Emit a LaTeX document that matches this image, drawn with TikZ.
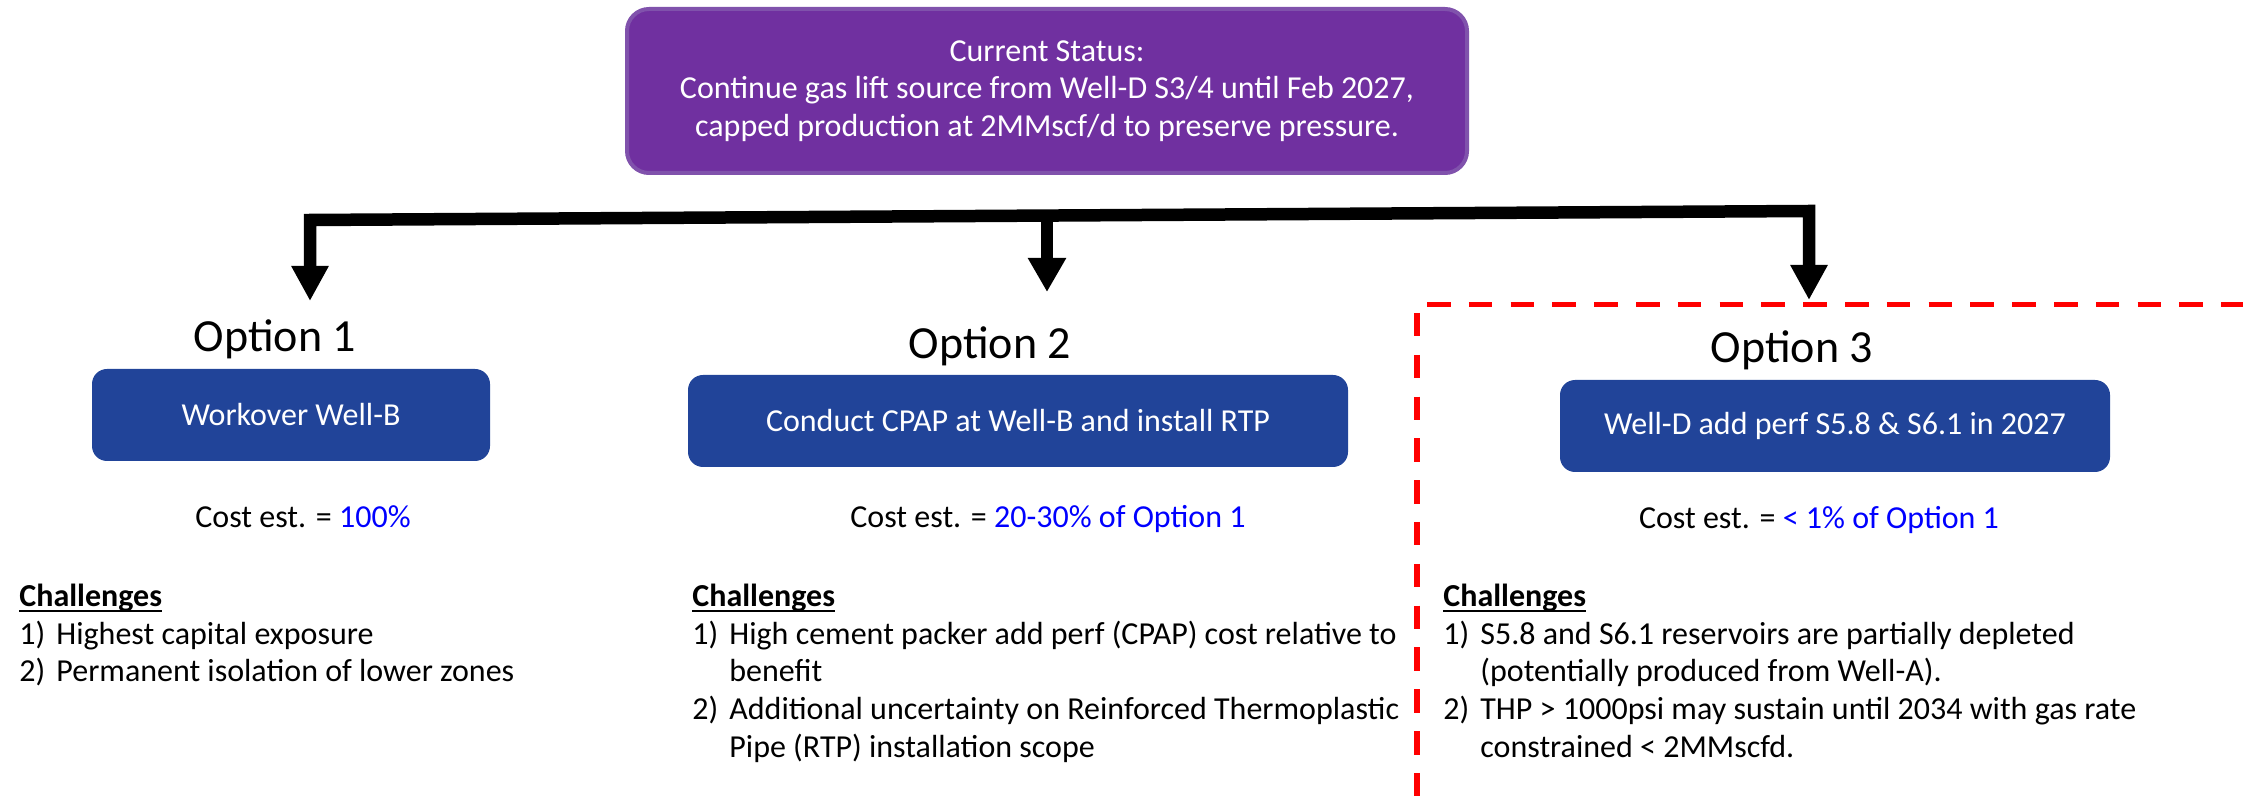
\documentclass[tikz,border=0pt]{standalone}
\usepackage{fontspec}
\setmainfont{Carlito}
\usetikzlibrary{arrows.meta}
\definecolor{statuspurple}{RGB}{112,48,160}
\definecolor{statusedge}{RGB}{128,82,172}
\definecolor{optionblue}{RGB}{33,68,153}
\definecolor{costblue}{RGB}{0,0,255}
\newsavebox{\chalbox}
\newcommand{\chalhead}{\multicolumn{2}{@{}l@{}}{\sbox{\chalbox}{\textbf{Challenges}}\usebox{\chalbox}\llap{\rule[-2.6pt]{\wd\chalbox}{1.1pt}}}\\}

\begin{document}
\begin{tikzpicture}[x=0.5pt, y=-0.5pt]
        \tikzstyle{status}=[rounded corners=11pt,fill=statuspurple,draw=statusedge,line width=2pt,text=white,align=center,minimum width=420pt,minimum height=82pt,font=\fontsize{16}{18.75}\selectfont]
        \tikzstyle{action}=[rounded corners=7.5pt,fill=optionblue,text=white,minimum height=46pt,font=\fontsize{16}{18.75}\selectfont]
        \tikzstyle{title}=[anchor=base,inner sep=0pt,font=\fontsize{23}{27}\selectfont]
        \tikzstyle{cost}=[anchor=base,inner sep=0pt,font=\fontsize{16}{18.75}\selectfont]
        \tikzstyle{list}=[anchor=base west,inner sep=0pt,font=\fontsize{16}{18.75}\selectfont]
        \tikzstyle{flow}=[line width=6.25pt]
        \tikzstyle{frame}=[red,line width=2.75pt,dash pattern=on 11.75pt off 9.15pt]

        \useasboundingbox (0,0) rectangle (2243,806);

        \node[status] (S) at (1047,91) {Current Status:\\Continue gas lift source from Well-D S3/4 until Feb 2027,\\capped production at 2MMscf/d to preserve pressure.};

        \node[title] (O_1) at (275,352) {Option 1};
        \node[title] (O_2) at (990,359) {Option 2};
        \node[title] (O_3) at (1792,363) {Option 3};

        \node[action,minimum width=199pt] (B_1) at (291,415) {Workover Well-B};
        \node[action,minimum width=330pt] (B_2) at (1018,421) {Conduct CPAP at Well-B and install RTP};
        \node[action,minimum width=275pt] (B_3) at (1835,426) {Well-D add perf S5.8 \& S6.1 in 2027};

        \node[cost] (C_1) at (303,528) {Cost est. = \textcolor{costblue}{100\%}};
        \node[cost] (C_2) at (1048,528) {Cost est. = \textcolor{costblue}{20-30\% of Option 1}};
        \node[cost] (C_3) at (1819,529) {Cost est. = \textcolor{costblue}{< 1\% of Option 1}};

        \node[list] (L_1) at (19,607) {\begin{tabular}[t]{@{}p{18.5pt}@{}l@{}}\chalhead
            1) & Highest capital exposure\\
            2) & Permanent isolation of lower zones
        \end{tabular}};
        \node[list] (L_2) at (692,607) {\begin{tabular}[t]{@{}p{18.5pt}@{}l@{}}\chalhead
            1) & High cement packer add perf (CPAP) cost relative to\\
               & benefit\\
            2) & Additional uncertainty on Reinforced Thermoplastic\\
               & Pipe (RTP) installation scope
        \end{tabular}};
        \node[list] (L_3) at (1443,607) {\begin{tabular}[t]{@{}p{18.5pt}@{}l@{}}\chalhead
            1) & S5.8 and S6.1 reservoirs are partially depleted\\
               & (potentially produced from Well-A).\\
            2) & THP > 1000psi may sustain until 2034 with gas rate\\
               & constrained < 2MMscfd.
        \end{tabular}};

        \coordinate (K_1) at (310,220);
        \coordinate (K_2) at (1047,215.6);
        \coordinate (K_3) at (1809,211);
        \coordinate (T_1) at (310,301);
        \coordinate (T_2) at (1047,292);
        \coordinate (T_3) at (1809,300);

        \draw[flow,{Triangle[length=17.5pt,width=17.5pt]}-{Triangle[length=17.5pt,width=17.5pt]}] (T_1) -- (K_1) -- (K_3) -- (T_3);
        \draw[flow,-{Triangle[length=17pt,width=18pt]}] (K_2) -- (T_2);

        \draw[frame] (1427,304.5) -- (2243,304.5);
        \draw[frame] (1417,313) -- (1417,806);
    \end{tikzpicture}
\end{document}
